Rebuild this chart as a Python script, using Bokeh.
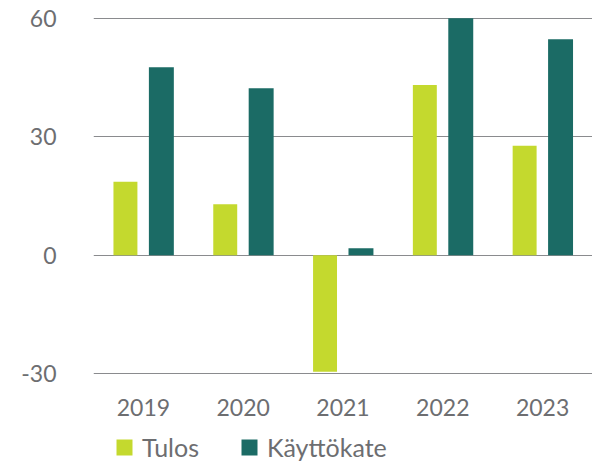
from bokeh.plotting import figure
from bokeh.layouts import column
from bokeh.models import (ColumnDataSource, FactorRange, Range1d, FixedTicker, Legend,
                          LegendItem, PrintfTickFormatter)
from bokeh.transform import dodge
from bokeh.embed import file_html
from bokeh.resources import INLINE

years = ["2019", "2020", "2021", "2022", "2023"]
tulos = [18.6, 12.9, -29.5, 43.1, 27.7]
kayttokate = [47.6, 42.3, 1.8, 60.0, 54.7]
y_ticks = [-30, 0, 30, 60]
series_names = ["Tulos", "Käyttökate"]

GREEN = "#c4d92e"
TEAL = "#1b6b65"
TXT = "#6d6e71"
FONT = "Lato"

src = ColumnDataSource(dict(year=years, tulos=tulos, kk=kayttokate))

p = figure(width=592, height=424, x_range=FactorRange(*years, range_padding=0),
           y_range=Range1d(-30.2, 60.2), output_backend="svg", toolbar_location=None,
           min_border_left=93, min_border_right=0, min_border_top=17, min_border_bottom=50)
p.outline_line_color = None

p.vbar(x=dodge("year", -0.18, range=p.x_range), top="tulos", bottom=0, width=0.24,
       source=src, color=GREEN, line_color=None)
p.vbar(x=dodge("year", 0.18, range=p.x_range), top="kk", bottom=0, width=0.25,
       source=src, color=TEAL, line_color=None)

p.xgrid.grid_line_color = None
p.ygrid.ticker = FixedTicker(ticks=y_ticks)
p.ygrid.grid_line_color = "#8a8b8e"
p.ygrid.grid_line_width = 1.2

p.yaxis.ticker = FixedTicker(ticks=y_ticks)
p.yaxis.formatter = PrintfTickFormatter(format="%d")
p.yaxis.axis_line_color = None
p.yaxis.major_tick_line_color = None
p.yaxis.minor_tick_line_color = None
p.yaxis.major_label_standoff = 31
p.yaxis.major_label_text_font = FONT
p.yaxis.major_label_text_font_size = "23px"
p.yaxis.major_label_text_color = TXT

p.xaxis.axis_line_color = None
p.xaxis.major_tick_line_color = None
p.xaxis.minor_tick_line_color = None
p.xaxis.major_label_standoff = 18
p.xaxis.major_label_text_font = FONT
p.xaxis.major_label_text_font_size = "23px"
p.xaxis.major_label_text_color = TXT

# legend strip
lg = figure(width=592, height=40, x_range=Range1d(0, 1), y_range=Range1d(0, 1),
            output_backend="svg", toolbar_location=None,
            x_axis_location=None, y_axis_location=None,
            min_border_left=0, min_border_right=0, min_border_top=0, min_border_bottom=0)
lg.outline_line_color = None
lg.grid.visible = False
placeholder = ColumnDataSource(dict(x=[float("nan")], top=[float("nan")]))
d1 = lg.vbar(x="x", top="top", width=0.1, source=placeholder, color=GREEN, line_color=None)
d2 = lg.vbar(x="x", top="top", width=0.1, source=placeholder, color=TEAL, line_color=None)

legend = Legend(items=[LegendItem(label=series_names[0], renderers=[d1]),
                       LegendItem(label=series_names[1], renderers=[d2])],
                orientation="horizontal", location=(21, 2))
legend.border_line_color = None
legend.background_fill_alpha = 0
legend.label_text_font = FONT
legend.label_text_font_size = "25px"
legend.label_text_color = TXT
legend.glyph_width = 20
legend.glyph_height = 20
legend.label_standoff = 8
legend.spacing = 40
legend.padding = 0
legend.margin = 0
legend.label_height = 20
lg.add_layout(legend, "center")

layout = column(p, lg, spacing=0)
open("out.html", "w").write(file_html(layout, INLINE))
